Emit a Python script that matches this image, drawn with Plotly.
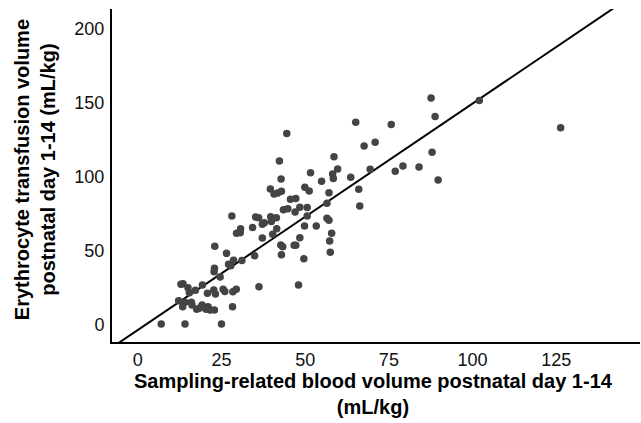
import plotly.graph_objects as go

sampling_volume = [
    7.0, 14.1, 25.0, 126.3, 102.0, 87.6, 88.8, 87.9, 89.7, 84.0,
    79.2, 76.9, 75.7, 65.1, 70.9, 67.6, 69.4, 63.6, 66.0, 66.3,
    58.6, 59.7, 58.2, 58.4, 54.9, 51.6, 57.1, 51.2, 49.9, 56.5,
    50.6, 48.4, 47.0, 47.2, 45.6, 44.5, 42.3, 42.8, 39.6, 40.7,
    41.8, 42.9, 43.5, 44.8, 39.7, 41.4, 39.9, 35.2, 36.1, 37.2,
    37.8, 34.3, 41.5, 40.3, 37.2, 28.1, 30.7, 29.5, 30.6, 49.8,
    53.3, 50.6, 56.5, 57.1, 57.9, 57.3, 57.5, 48.4, 46.7, 47.2,
    42.7, 43.3, 42.9, 49.6, 48.0, 36.2, 34.9, 31.1, 28.6, 27.8,
    27.1, 26.5, 23.0, 22.9, 22.8, 24.6, 19.3, 12.9, 13.5, 15.0,
    15.4, 17.2, 20.8, 22.7, 23.2, 25.5, 26.0, 28.4, 29.4, 12.2,
    14.1, 13.4, 16.0, 16.2, 17.6, 18.4, 19.2, 20.4, 21.0, 21.6,
    22.9, 28.3,
]
transfusion_volume = [
    0.7, 0.7, 0.7, 133.3, 151.6, 153.4, 140.8, 116.7, 98.0, 106.8,
    107.4, 103.8, 135.4, 136.9, 123.4, 120.9, 105.2, 99.8, 91.7, 80.4,
    113.7, 105.4, 102.0, 98.9, 97.1, 102.9, 89.4, 90.5, 93.0, 82.2,
    79.3, 79.5, 76.4, 85.4, 84.9, 129.3, 110.8, 98.6, 91.9, 88.5,
    89.2, 90.3, 77.9, 78.6, 73.2, 72.5, 70.0, 73.0, 72.5, 68.0,
    69.1, 65.8, 65.1, 61.3, 58.8, 73.6, 65.1, 61.9, 62.4, 66.9,
    66.9, 73.6, 72.1, 70.7, 61.9, 56.8, 49.1, 59.0, 53.8, 53.8,
    54.1, 52.9, 47.5, 44.8, 27.0, 25.9, 46.8, 43.5, 43.7, 40.1,
    41.0, 48.4, 53.2, 38.3, 36.0, 32.4, 27.0, 27.5, 27.9, 25.2,
    21.8, 23.4, 21.4, 23.6, 20.9, 24.1, 22.7, 22.5, 24.1, 16.4,
    15.3, 12.4, 15.3, 13.5, 10.6, 11.3, 13.5, 10.6, 12.4, 10.1,
    10.1, 12.4,
]

fit_slope = 1.53
fit_intercept = -3.4

x_tick_values = [0, 25, 50, 75, 100, 125]
y_tick_values = [0, 50, 100, 150, 200]

x_title = "Sampling-related blood volume postnatal day 1-14<br>(mL/kg)"
y_title = "Erythrocyte transfusion volume<br>postnatal day 1-14 (mL/kg)"

x_range = [-7.7, 150]
y_range = [-11.5, 213.5]

line_x = [x_range[0], x_range[1]]
line_y = [fit_intercept + fit_slope * v for v in line_x]

fig = go.Figure()
fig.add_trace(go.Scatter(
    x=line_x, y=line_y, mode="lines",
    line=dict(color="black", width=2), showlegend=False, hoverinfo="skip",
))
fig.add_trace(go.Scatter(
    x=sampling_volume, y=transfusion_volume, mode="markers",
    marker=dict(color="#444444", size=7.5, line=dict(width=0)),
    showlegend=False,
))

font_family = "Liberation Sans, Arial, sans-serif"
fig.update_layout(
    width=641, height=423,
    margin=dict(l=112, r=1, t=9, b=81),
    plot_bgcolor="white", paper_bgcolor="white",
    font=dict(family=font_family, size=18, color="black"),
    xaxis=dict(
        range=x_range, tickvals=x_tick_values, ticks="", showgrid=False,
        zeroline=False, showline=True, linecolor="black", linewidth=2,
        tickfont=dict(size=18, color="#111111"), automargin=False,
        ticklabelstandoff=0,
    ),
    yaxis=dict(
        range=y_range, tickvals=y_tick_values, ticks="", showgrid=False,
        zeroline=False, showline=True, linecolor="black", linewidth=2,
        tickfont=dict(size=18, color="#111111"), automargin=False,
        ticklabelstandoff=2,
    ),
)

title_font = dict(family=font_family, size=20, color="black")
fig.add_annotation(
    text=f"<b>{x_title}</b>", xref="paper", yref="paper", x=0.495, y=0,
    xanchor="center", yanchor="middle", yshift=-52, showarrow=False,
    font=title_font,
)
fig.add_annotation(
    text=f"<b>{y_title}</b>", xref="paper", yref="paper", x=0, y=0.516,
    xanchor="center", yanchor="middle", xshift=-77, showarrow=False,
    textangle=-90, font=title_font,
)

fig.write_html(
    "out.html",
    config={"displayModeBar": False},
    post_script="document.body.style.margin='0';",
)
